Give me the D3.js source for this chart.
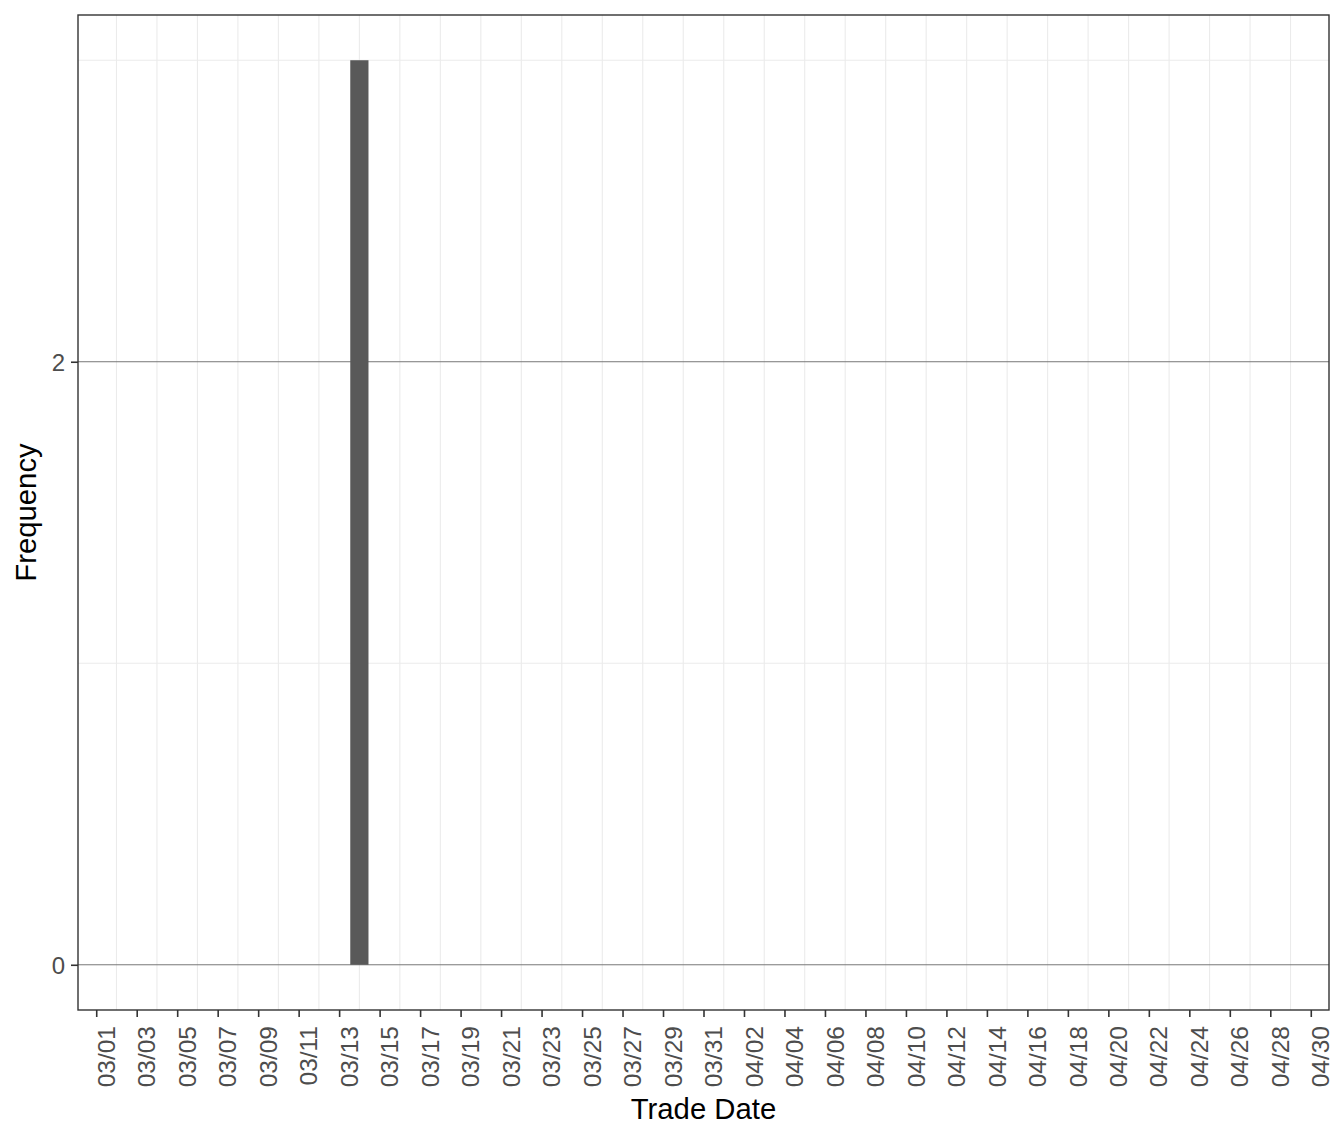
<!DOCTYPE html>
<html>
<head>
<meta charset="utf-8">
<script src="https://cdn.jsdelivr.net/npm/d3@7"></script>
<style>
  html, body { margin: 0; padding: 0; background: #ffffff; }
  svg { display: block; }
  text { font-family: "Liberation Sans", Arial, Helvetica, sans-serif; }
</style>
</head>
<body>
<svg id="chart" width="1344" height="1142"></svg>
<script>
// ---- data ----
const tradeDates = ["2020-03-14"];
const frequencies = [3];
const rangeStart = "2020-03-01";
const rangeEnd = "2020-04-30";
const xTickStepDays = 2;
const yMajorTicks = [0, 2];
const yMinorTicks = [1, 3];
const xTitle = "Trade Date";
const yTitle = "Frequency";

// ---- layout ----
const W = 1344, H = 1142;
const panel = { left: 78, right: 1329, top: 15, bottom: 1010 };
const DAY = 86400000;
const parse = d3.utcParse("%Y-%m-%d");
const fmt = d3.utcFormat("%m/%d");

const start = parse(rangeStart), end = parse(rangeEnd);
const x = d3.scaleUtc()
  .domain([new Date(+start - 0.9 * DAY), new Date(+end + 0.9 * DAY)])
  .range([panel.left, panel.right]);
const yMax = d3.max(frequencies);
const y = d3.scaleLinear()
  .domain([-0.05 * yMax, yMax * 1.05])
  .range([panel.bottom, panel.top]);

const nDays = Math.round((end - start) / DAY);
const tickDates = d3.range(0, nDays + 1, xTickStepDays).map(k => d3.utcDay.offset(start, k));
const gridDates = d3.range(1, nDays, xTickStepDays).map(k => d3.utcDay.offset(start, k));

const svg = d3.select("#chart");
svg.append("rect").attr("width", W).attr("height", H).attr("fill", "#ffffff");

const grid = svg.append("g");
// vertical grid
grid.selectAll("line.v").data(gridDates).join("line")
  .attr("x1", d => x(d)).attr("x2", d => x(d))
  .attr("y1", panel.top).attr("y2", panel.bottom)
  .attr("stroke", "#ebebeb").attr("stroke-width", 1.1);
// minor horizontal grid
grid.selectAll("line.hm").data(yMinorTicks).join("line")
  .attr("x1", panel.left).attr("x2", panel.right)
  .attr("y1", d => y(d)).attr("y2", d => y(d))
  .attr("stroke", "#ebebeb").attr("stroke-width", 1.1);
// major horizontal lines
svg.append("g").selectAll("line").data(yMajorTicks).join("line")
  .attr("x1", panel.left).attr("x2", panel.right)
  .attr("y1", d => y(d)).attr("y2", d => y(d))
  .attr("stroke", "#777777").attr("stroke-width", 1);

// bars
const bars = tradeDates.map((d, i) => ({ date: parse(d), value: frequencies[i] }));
svg.append("g").selectAll("rect").data(bars).join("rect")
  .attr("x", d => x(new Date(+d.date - 0.45 * DAY)))
  .attr("width", d => x(new Date(+d.date + 0.45 * DAY)) - x(new Date(+d.date - 0.45 * DAY)))
  .attr("y", d => y(d.value))
  .attr("height", d => y(0) - y(d.value))
  .attr("fill", "#595959");

// panel border
svg.append("rect")
  .attr("x", panel.left).attr("y", panel.top)
  .attr("width", panel.right - panel.left).attr("height", panel.bottom - panel.top)
  .attr("fill", "none").attr("stroke", "#333333").attr("stroke-width", 1.4);

// x axis
const xAxis = svg.append("g")
  .attr("transform", `translate(0,${panel.bottom})`)
  .call(d3.axisBottom(x).tickValues(tickDates).tickFormat(fmt).tickSize(7).tickSizeOuter(0));
xAxis.select(".domain").remove();
xAxis.selectAll(".tick line").attr("stroke", "#333333").attr("stroke-width", 1.6);
xAxis.selectAll(".tick text")
  .attr("transform", "rotate(-90)")
  .attr("text-anchor", "end")
  .attr("x", -16).attr("y", 0).attr("dy", "0.74em")
  .attr("font-size", "24.5px")
  .attr("fill", "#4d4d4d")
  .style("font-family", '"Liberation Sans", Arial, Helvetica, sans-serif');

// y axis
const yAxis = svg.append("g")
  .attr("transform", `translate(${panel.left},0)`)
  .call(d3.axisLeft(y).tickValues(yMajorTicks).tickFormat(d3.format("d")).tickSize(7).tickSizeOuter(0));
yAxis.select(".domain").remove();
yAxis.selectAll(".tick line").attr("stroke", "#333333").attr("stroke-width", 1.6);
yAxis.selectAll(".tick text")
  .attr("x", -13).attr("dy", "0.36em")
  .attr("font-size", "24px")
  .attr("fill", "#4d4d4d")
  .style("font-family", '"Liberation Sans", Arial, Helvetica, sans-serif');

// titles
svg.append("text")
  .attr("x", (panel.left + panel.right) / 2).attr("y", 1119)
  .attr("text-anchor", "middle").attr("font-size", "29.3px").attr("fill", "#000000")
  .text(xTitle);
svg.append("text")
  .attr("transform", `translate(36,${(panel.top + panel.bottom) / 2}) rotate(-90)`)
  .attr("text-anchor", "middle").attr("font-size", "29.3px").attr("fill", "#000000")
  .text(yTitle);
</script>
</body>
</html>
